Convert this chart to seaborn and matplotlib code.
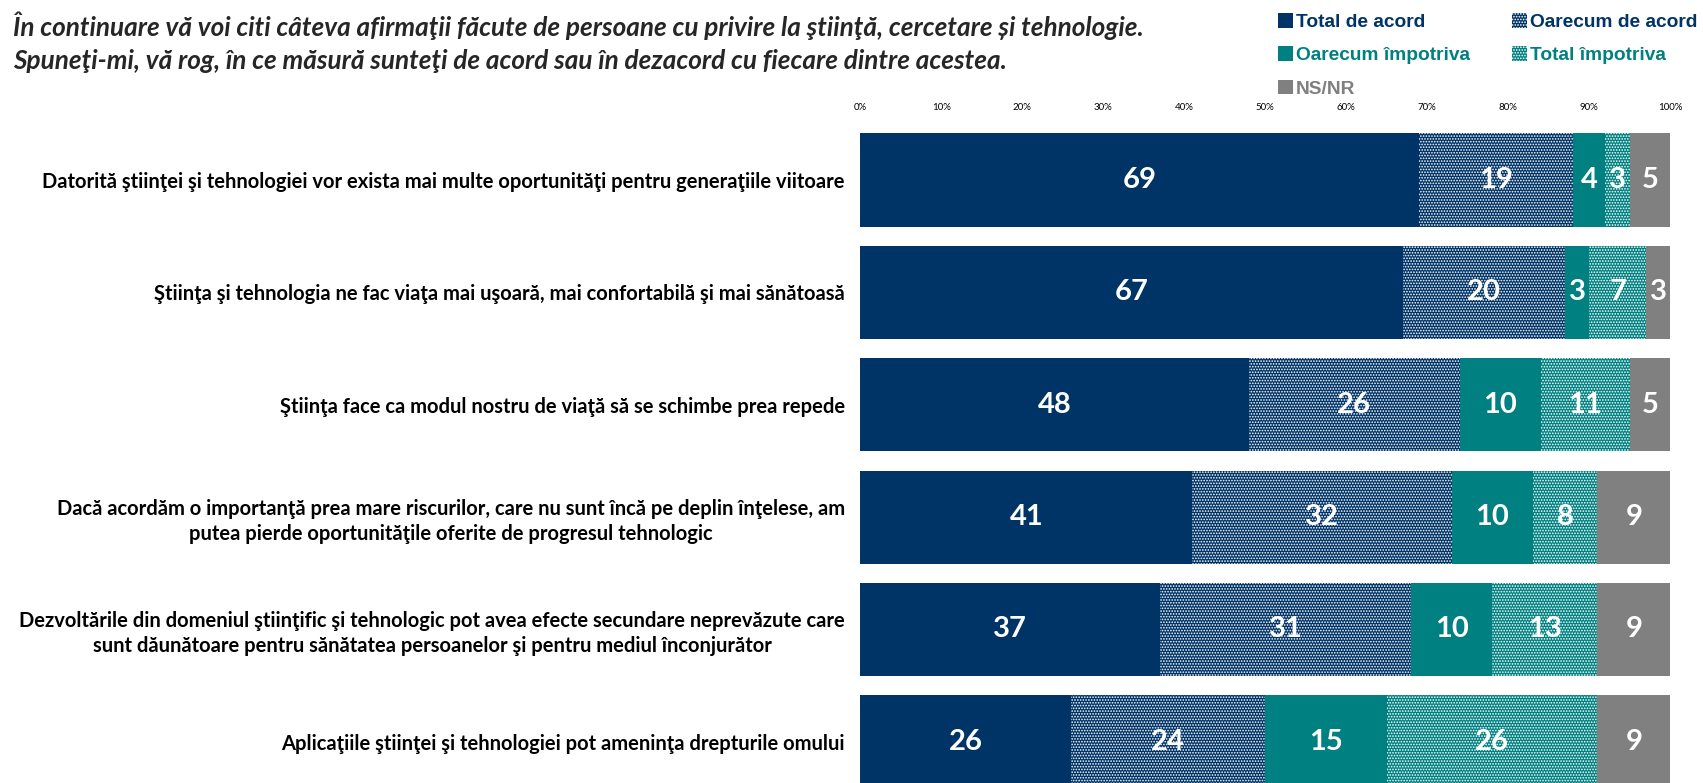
import matplotlib
matplotlib.use("Agg")

import numpy as np
import matplotlib.pyplot as plt
from matplotlib.patches import Patch
import seaborn as sns

sns.set_theme(style="white")
plt.rcParams["hatch.linewidth"] = 0.8

# Data
statements = [
    "Datorită ştiinţei şi tehnologiei vor exista mai multe oportunităţi pentru generaţiile viitoare",
    "Ştiinţa şi tehnologia ne fac viaţa mai uşoară, mai confortabilă şi mai sănătoasă",
    "Ştiinţa face ca modul nostru de viaţă să se schimbe prea repede",
    "Dacă acordăm o importanţă prea mare riscurilor, care nu sunt încă pe deplin înţelese, am\n"
    "putea pierde oportunităţile oferite de progresul tehnologic",
    "Dezvoltările din domeniul ştiinţific şi tehnologic pot avea efecte secundare neprevăzute care\n"
    "sunt dăunătoare pentru sănătatea persoanelor şi pentru mediul înconjurător",
    "Aplicaţiile ştiinţei şi tehnologiei pot ameninţa drepturile omului",
]
total_acord = [69, 67, 48, 41, 37, 26]
oarecum_acord = [19, 20, 26, 32, 31, 24]
oarecum_impotriva = [4, 3, 10, 10, 10, 15]
total_impotriva = [3, 7, 11, 8, 13, 26]
ns_nr = [5, 3, 5, 9, 9, 9]

series_names = ["Total de acord", "Oarecum de acord", "Oarecum împotriva",
                "Total împotriva", "NS/NR"]
tick_values = list(range(0, 101, 10))

NAVY = "#003366"
TEAL = "#008080"
GREY = "#808080"

series = [
    (series_names[0], total_acord, NAVY, None),
    (series_names[1], oarecum_acord, NAVY, "......"),
    (series_names[2], oarecum_impotriva, TEAL, None),
    (series_names[3], total_impotriva, TEAL, "......"),
    (series_names[4], ns_nr, GREY, None),
]

fig = plt.figure(figsize=(17.03, 7.83), dpi=100)
ax = fig.add_axes([0.5051, -0.0192, 0.4757, 0.8610])

cum = np.zeros(len(statements))
cums = []
for _, vals, _, _ in series:
  cum = cum + np.array(vals)
  cums.append(cum.copy())

# stacked bars: draw cumulative totals, longest first
for (name, vals, color, hatch), c in reversed(list(zip(series, cums))):
  sns.barplot(x=c, y=statements, orient="h", color=color, saturation=1,
              hatch=hatch, edgecolor="white", linewidth=0, width=0.83, ax=ax)

for (name, vals, color, hatch), c in zip(series, cums):
  for i, v in enumerate(vals):
    ax.text(c[i] - v / 2, i, f"{v}", ha="center", va="center",
            color="white", fontsize=21, fontweight="bold", family="Lato")

ax.set_xlim(0, 100)
ax.set_ylim(5.5, -0.5)
ax.set_xticks(tick_values)
ax.set_xticklabels([f"{t}%" for t in tick_values], fontsize=7, family="Lato")
ax.xaxis.tick_top()
ax.tick_params(axis="x", length=0, pad=8.5, colors="black")
ax.tick_params(axis="y", length=0, pad=11)
ax.set_xlabel("")
ax.set_ylabel("")
for t in ax.get_yticklabels():
  t.set_fontsize(14.5)
  t.set_fontweight("bold")
  t.set_family("Lato")
  t.set_multialignment("center")
  t.set_linespacing(1.3)
  t.set_color("black")
sns.despine(ax=ax, left=True, bottom=True, top=True, right=True)

fig.text(0.0076, 1 - 26 / 783,
         "În continuare vă voi citi câteva afirmaţii făcute de persoane cu privire la ştiinţă, cercetare și tehnologie.",
         ha="left", va="center", fontsize=18.8, fontweight="bold", style="italic", family="Lato")
fig.text(0.0076, 1 - 61 / 783,
         "Spuneţi-mi, vă rog, în ce măsură sunteţi de acord sau în dezacord cu fiecare dintre acestea.",
         ha="left", va="center", fontsize=18.8, fontweight="bold", style="italic", family="Lato")

# legend (column-major fill)
handles = {name: Patch(facecolor=color, hatch=hatch, edgecolor="white", linewidth=0)
           for name, _, color, hatch in series}
order = [series_names[0], series_names[2], series_names[4], series_names[1], series_names[3]]
leg = fig.legend([handles[n] for n in order], order, ncol=2, loc="upper left",
                 bbox_to_anchor=(1261 / 1703, 1 + 4 / 783), frameon=False,
                 handlelength=0.78, handleheight=0.78, handletextpad=0.15,
                 columnspacing=2.2, labelspacing=0.8,
                 prop={"family": "Liberation Sans", "weight": "bold", "size": 13.8})
text_colors = {series_names[0]: NAVY, series_names[1]: NAVY, series_names[2]: TEAL,
               series_names[3]: TEAL, series_names[4]: GREY}
for txt in leg.get_texts():
  txt.set_color(text_colors[txt.get_text()])

fig.savefig("out.png", dpi=100)
